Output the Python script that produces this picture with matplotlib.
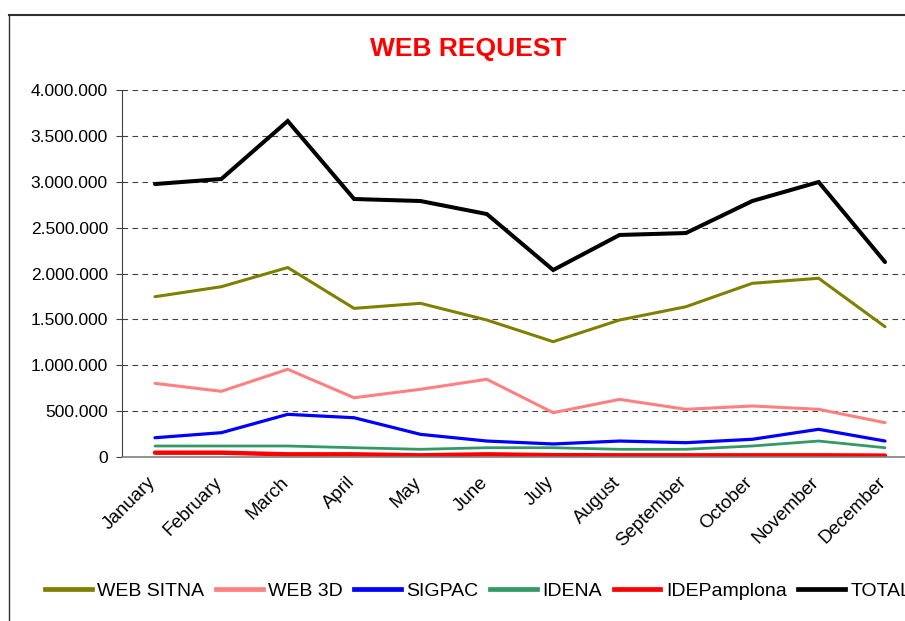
import numpy as np
import matplotlib
matplotlib.use("Agg")
import matplotlib.pyplot as plt
from matplotlib.lines import Line2D
from matplotlib.ticker import FuncFormatter
from matplotlib.transforms import ScaledTranslation

plt.rcParams['font.family'] = ['Liberation Sans', 'DejaVu Sans']

# month labels
months = ['January', 'February', 'March', 'April', 'May', 'June', 'July',
          'August', 'September', 'October', 'November', 'December']

# monthly requests per service
web_sitna = [1747000, 1856000, 2065000, 1620000, 1675000, 1493000,
             1257000, 1493000, 1638000, 1893000, 1948000, 1420000]
web_3d = [803000, 716000, 956000, 646000, 738000, 847000,
          483000, 628000, 520000, 556000, 520000, 374000]
sigpac = [210000, 265000, 465000, 428000, 247000, 174000,
          142000, 174000, 156000, 193000, 302000, 174000]
idena = [120000, 120000, 120000, 101000, 84000, 101000,
         101000, 84000, 84000, 120000, 174000, 101000]
idepamplona = [47000, 47000, 29000, 29000, 18000, 29000,
               20000, 18000, 18000, 18000, 18000, 15000]
total = [2975000, 3030000, 3662000, 2812000, 2790000, 2648000,
         2038000, 2420000, 2441000, 2790000, 2997000, 2125000]

series = [
    ('WEB SITNA', web_sitna, '#808000', 2.2),
    ('WEB 3D', web_3d, '#FF8080', 2.2),
    ('SIGPAC', sigpac, '#0000FF', 2.3),
    ('IDENA', idena, '#339966', 2.0),
    ('IDEPamplona', idepamplona, '#FF0000', 3.2),
    ('TOTAL', total, '#000000', 2.9),
]

W, H = 905, 621
fig = plt.figure(figsize=(W / 100, H / 100), dpi=100)

# plot area (right edge runs past the cropped picture)
left, right, top, bottom = 121.8, 918.2, 90, 457
ax = fig.add_axes((left / W, 1 - bottom / H, (right - left) / W, (bottom - top) / H))

x = np.arange(len(months))
for name, vals, col, lw in series:
    ax.plot(x, vals, color=col, lw=lw, label=name, solid_capstyle='round',
            solid_joinstyle='miter')

ax.set_xlim(-0.5, len(months) - 0.5)
ax.set_ylim(0, 4000000)
ax.set_yticks(np.arange(0, 4000001, 500000))
ax.yaxis.set_major_formatter(FuncFormatter(lambda v, p: f'{int(v):,}'.replace(',', '.')))
ax.yaxis.grid(True, color='#404040', lw=0.8, linestyle=(0, (5, 4)))
ax.set_axisbelow(True)

ax.set_xticks(x)
ax.set_xticklabels(months, rotation=45, ha='right', va='top',
                   rotation_mode='anchor', fontsize=13.5)
ax.tick_params(axis='x', length=0, pad=12)
ax.tick_params(axis='y', length=4, width=0.8, color='#404040', labelsize=12.5, pad=6)
# nudge month labels a little left, as in the original
shift = ScaledTranslation(-0.08, 0, fig.dpi_scale_trans)
for lbl in ax.get_xticklabels():
    lbl.set_transform(lbl.get_transform() + shift)

for s in ['top', 'right']:
    ax.spines[s].set_visible(False)
ax.spines['left'].set_color('#404040')
ax.spines['bottom'].set_color('#808080')
ax.spines['left'].set_linewidth(0.8)
ax.spines['bottom'].set_linewidth(1.2)

fig.text(468 / W, 1 - 49 / H, 'WEB REQUEST', color='#FF0000', fontsize=19,
         fontweight='bold', ha='center', va='center')

# legend along the bottom
handles = [Line2D([0], [0], color=c, lw=3.4) for _, _, c, _ in series]
fig.legend(handles, [s[0] for s in series], loc='center left',
           bbox_to_anchor=(45 / W, 1 - 591 / H), ncol=6, frameon=False,
           fontsize=14, handlelength=2.4, handletextpad=0.28,
           columnspacing=0.6, borderaxespad=0, borderpad=0)

# chart border (cropped on the right and bottom)
fig.add_artist(Line2D([9 / W, 9 / W], [0, 1 - 15 / H], color='#303030', lw=1.0))
fig.add_artist(Line2D([9 / W, 1], [1 - 15 / H, 1 - 15 / H], color='#303030', lw=1.5))

fig.savefig('out.png', dpi=100)
